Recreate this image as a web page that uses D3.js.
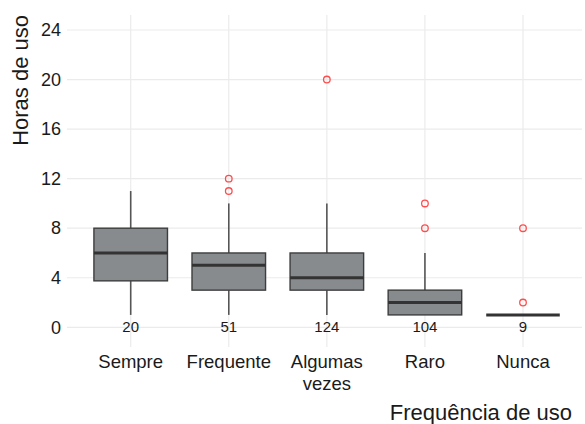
<!DOCTYPE html>
<html>
<head>
<meta charset="utf-8">
<script src="https://cdn.jsdelivr.net/npm/d3@7"></script>
<style>
  body { margin: 0; background: #fff; }
  text { font-family: "Liberation Sans", Arial, sans-serif; fill: #1a1a1a; }
</style>
</head>
<body>
<svg id="chart" width="585" height="424"></svg>
<script>
// categories and box stats
var categories = ["Sempre", "Frequente", "Algumas vezes", "Raro", "Nunca"];
var counts = [20, 51, 124, 104, 9];
var whiskerLow = [1, 1, 1, 1, 1];
var q1 = [3.75, 3, 3, 1, 1];
var median = [6, 5, 4, 2, 1];
var q3 = [8, 6, 6, 3, 1];
var whiskerHigh = [11, 10, 10, 6, 1];
var outliers = [[], [11, 12], [20], [8, 10], [2, 8]];
var yTicks = [0, 4, 8, 12, 16, 20, 24];

var svg = d3.select("#chart");

// panel
var panel = {left: 67, right: 582, top: 15, bottom: 347};

var xScale = d3.scalePoint()
    .domain(categories)
    .range([130.7, 523]);
var step = xScale.step();

var yScale = d3.scaleLinear()
    .domain([0, 24])
    .range([327.3, 30]);

// grid
var grid = svg.append("g");
grid.selectAll(".hgrid")
    .data(yTicks)
    .enter().append("line")
    .attr("x1", panel.left).attr("x2", panel.right)
    .attr("y1", function(d){ return yScale(d); })
    .attr("y2", function(d){ return yScale(d); })
    .attr("stroke", "#ebebeb").attr("stroke-width", 1.2);
grid.selectAll(".vgrid")
    .data(categories)
    .enter().append("line")
    .attr("x1", function(d){ return xScale(d); })
    .attr("x2", function(d){ return xScale(d); })
    .attr("y1", panel.top).attr("y2", panel.bottom)
    .attr("stroke", "#ebebeb").attr("stroke-width", 1.2);

// y axis
var yAxis = d3.axisLeft(yScale).tickValues(yTicks).tickSize(0).tickPadding(6);
var yg = svg.append("g")
    .attr("transform", "translate(" + panel.left + ",0)")
    .call(yAxis);
yg.select(".domain").remove();
yg.selectAll("text").style("font-size", "18px").attr("fill", "#1a1a1a")
    .attr("font-family", "Liberation Sans, Arial, sans-serif");

// boxes
var boxW = step * 0.75;
var boxes = svg.append("g");
categories.forEach(function(c, i){
    var cx = xScale(c);
    var g = boxes.append("g");
    // whiskers
    g.append("line")
        .attr("x1", cx).attr("x2", cx)
        .attr("y1", yScale(q3[i])).attr("y2", yScale(whiskerHigh[i]))
        .attr("stroke", "#555").attr("stroke-width", 1.6);
    g.append("line")
        .attr("x1", cx).attr("x2", cx)
        .attr("y1", yScale(q1[i])).attr("y2", yScale(whiskerLow[i]))
        .attr("stroke", "#555").attr("stroke-width", 1.6);
    // box
    g.append("rect")
        .attr("x", cx - boxW/2)
        .attr("y", yScale(q3[i]))
        .attr("width", boxW)
        .attr("height", Math.max(0, yScale(q1[i]) - yScale(q3[i])))
        .attr("fill", "#878b8d")
        .attr("stroke", "#3d3d3d").attr("stroke-width", 1.4);
    // median
    g.append("line")
        .attr("x1", cx - boxW/2).attr("x2", cx + boxW/2)
        .attr("y1", yScale(median[i])).attr("y2", yScale(median[i]))
        .attr("stroke", "#333").attr("stroke-width", 3);
    // outliers
    g.selectAll("circle")
        .data(outliers[i])
        .enter().append("circle")
        .attr("cx", cx)
        .attr("cy", function(d){ return yScale(d); })
        .attr("r", 3.3)
        .attr("fill", "none")
        .attr("stroke", "#ff4d4d").attr("stroke-width", 1.3);
    // count
    g.append("text")
        .text(counts[i])
        .attr("x", cx)
        .attr("y", yScale(0) + 5)
        .attr("text-anchor", "middle")
        .style("font-size", "15px");
});

// x labels
var xl = svg.append("g");
categories.forEach(function(c){
    var words = c === "Algumas vezes" ? ["Algumas", "vezes"] : [c];
    words.forEach(function(w, j){
        xl.append("text")
            .text(w)
            .attr("x", xScale(c))
            .attr("y", 368 + j * 21.5)
            .attr("text-anchor", "middle")
            .style("font-size", "18.5px");
    });
});

// axis titles
svg.append("text")
    .text("Frequência de uso")
    .attr("x", 572)
    .attr("y", 420)
    .attr("text-anchor", "end")
    .style("font-size", "22px");

svg.append("text")
    .text("Horas de uso")
    .attr("transform", "translate(28,15) rotate(-90)")
    .attr("text-anchor", "end")
    .style("font-size", "22px");
</script>
</body>
</html>
